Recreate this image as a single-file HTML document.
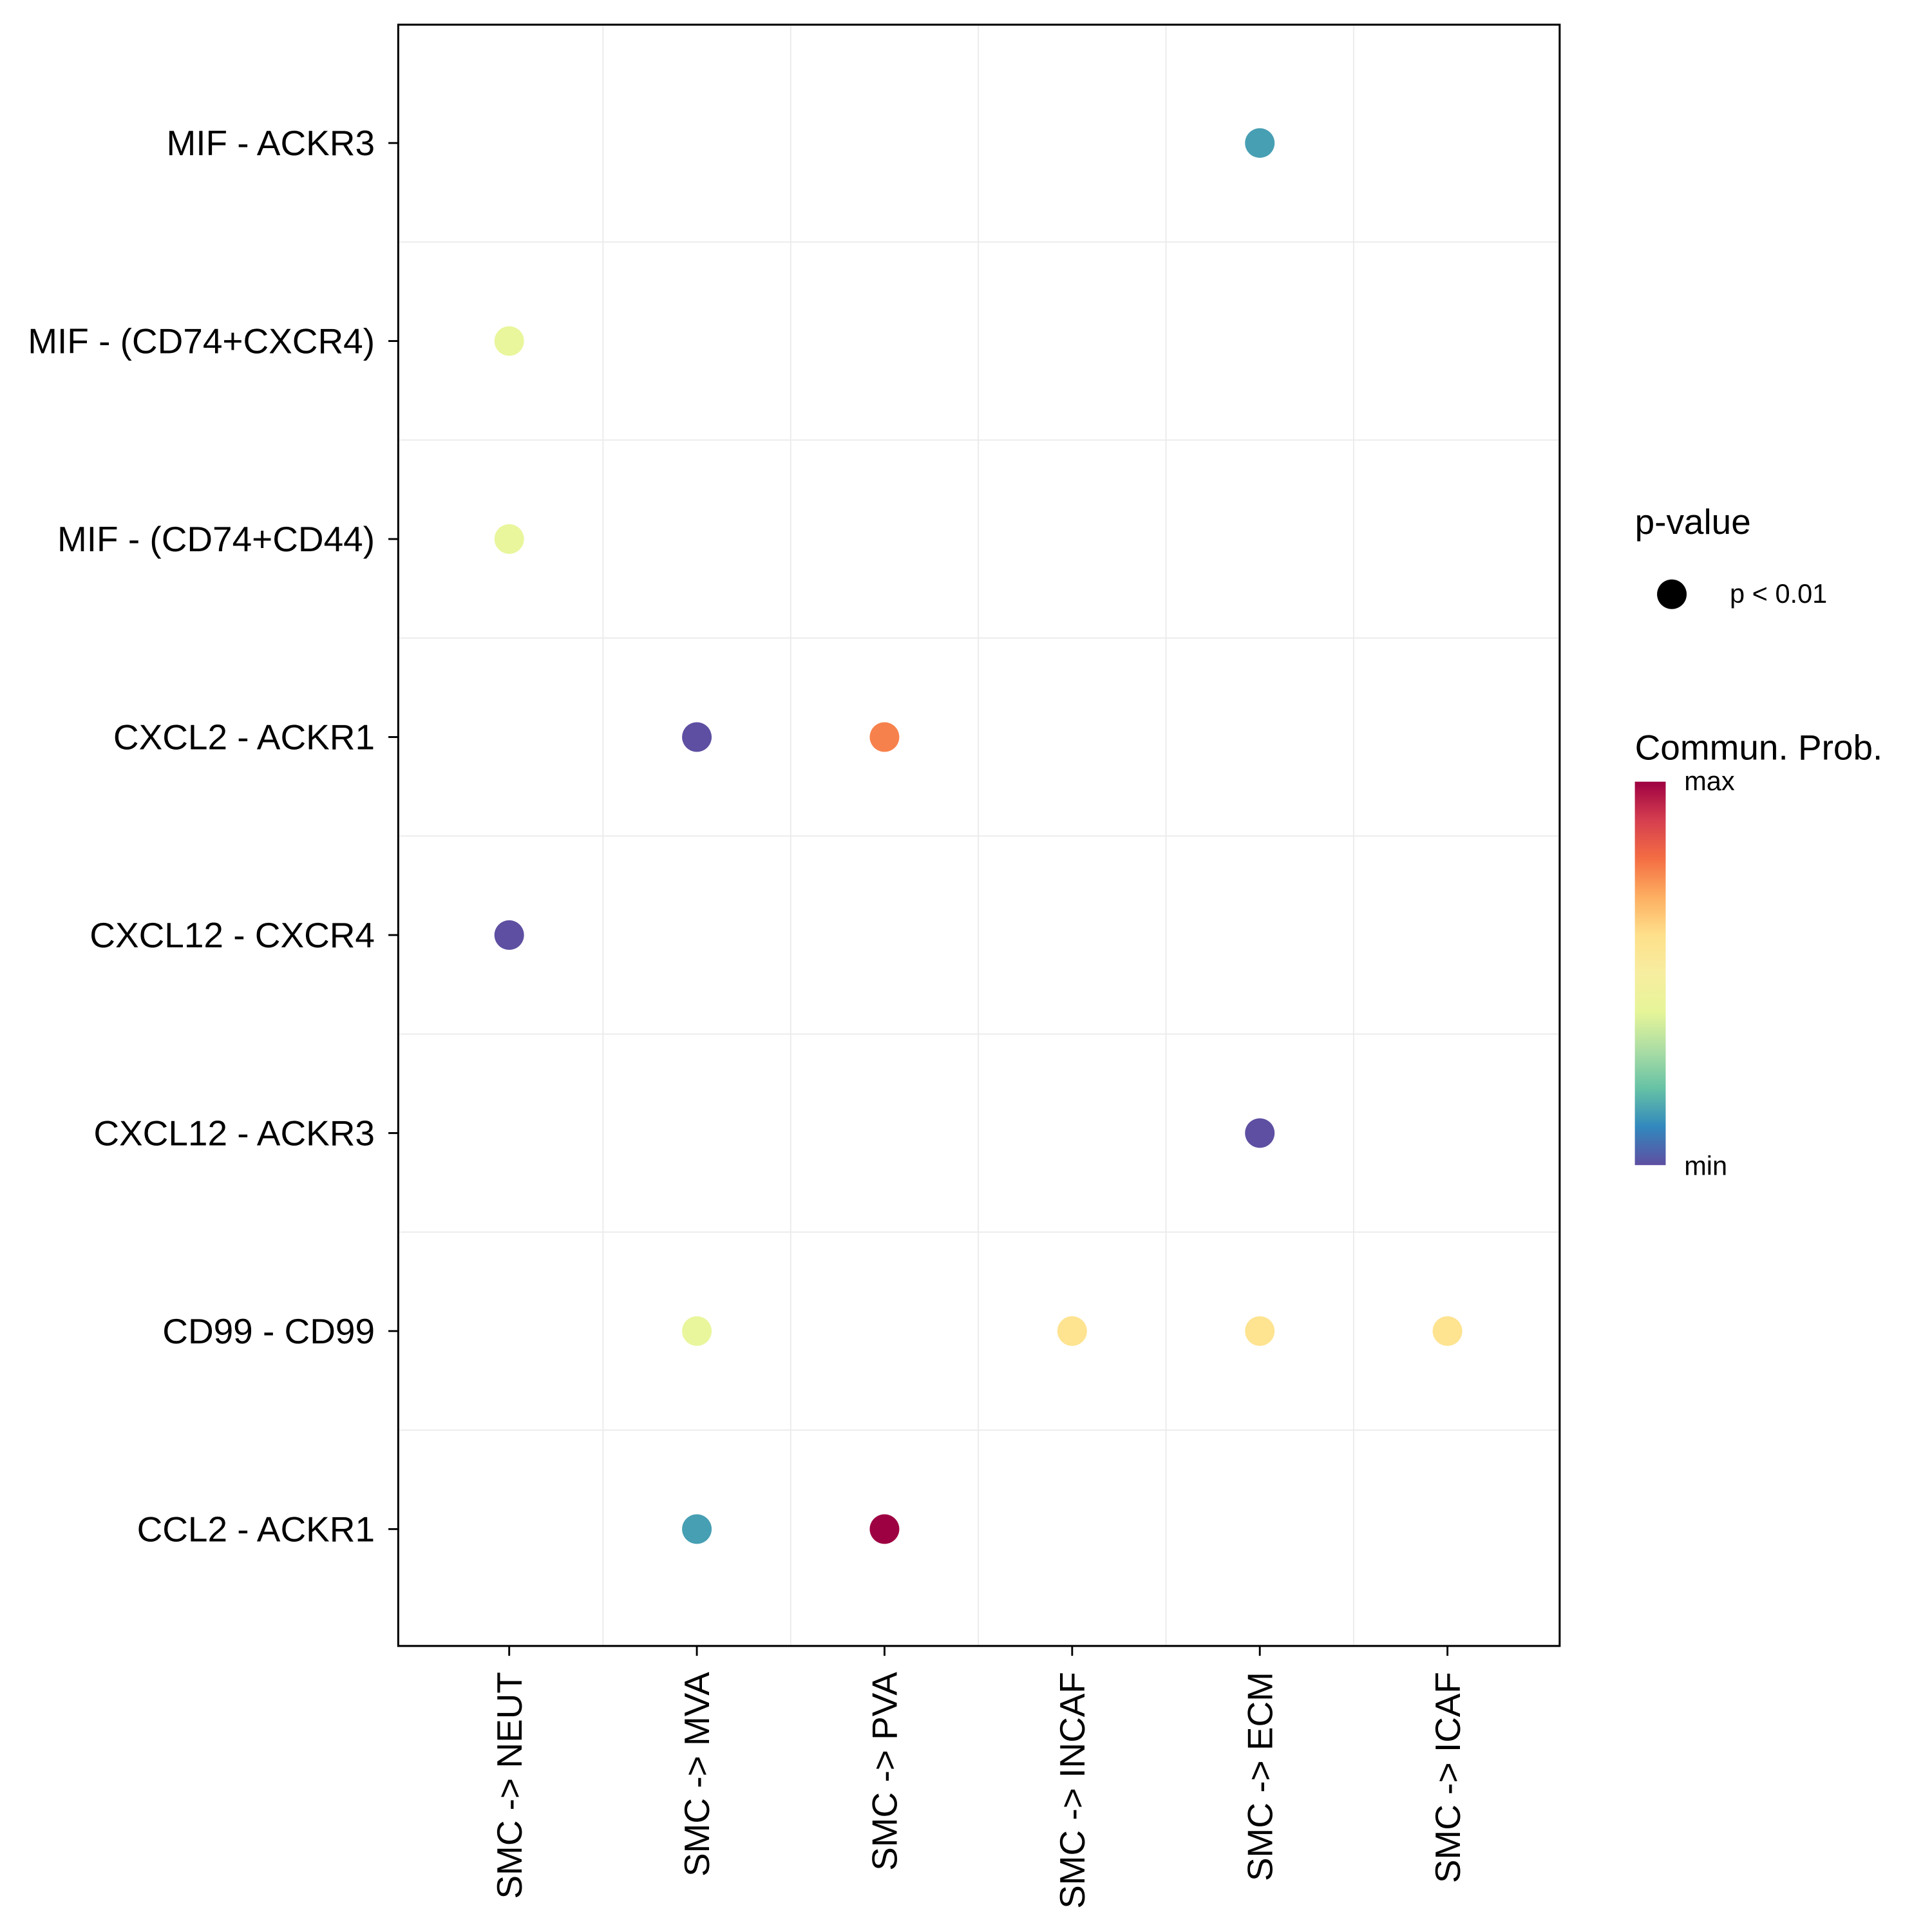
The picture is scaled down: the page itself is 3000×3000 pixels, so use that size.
<!DOCTYPE html>
<html><head><meta charset="utf-8"><style>html,body{margin:0;padding:0;background:#fff}svg{display:block}text{font-family:"Liberation Sans",sans-serif;fill:#000}</style></head>
<body>
<svg id="chart" width="3000" height="3000" viewBox="0 0 1567 1567" xmlns="http://www.w3.org/2000/svg">
<defs><linearGradient id="spec" x1="0" y1="1" x2="0" y2="0">
<stop offset="0" stop-color="#5e4fa2"/><stop offset="0.1" stop-color="#3288bd"/><stop offset="0.2" stop-color="#66c2a5"/><stop offset="0.3" stop-color="#abdda4"/><stop offset="0.4" stop-color="#e6f598"/><stop offset="0.5" stop-color="#f7eda0"/><stop offset="0.6" stop-color="#fee08b"/><stop offset="0.7" stop-color="#fdae61"/><stop offset="0.8" stop-color="#f46d43"/><stop offset="0.9" stop-color="#d53e4f"/><stop offset="1" stop-color="#9e0142"/></linearGradient></defs>
<rect x="0" y="0" width="1567" height="1567" fill="#fff"/>
<g id="grid"></g>
<g id="dots"></g>
<rect x="323" y="20" width="942" height="1315" fill="none" stroke="#000" stroke-width="1.6"/>
<g id="axes"></g>
<text x="1326" y="433" font-size="28.7">p-value</text>
<circle cx="1356" cy="482" r="12" fill="#000"/>
<text x="1403" y="489" font-size="21.7">p &lt; 0.01</text>
<text x="1326" y="616" font-size="28.7">Commun. Prob.</text>
<rect x="1326" y="634" width="25" height="311" fill="url(#spec)"/>
<text x="1366" y="641" font-size="21.7">max</text>
<text x="1366" y="953" font-size="21.7">min</text>
</svg>
<script>
const categoriesX = ["SMC -> NEUT","SMC -> MVA","SMC -> PVA","SMC -> INCAF","SMC -> ECM","SMC -> ICAF"];
const categoriesY = ["MIF - ACKR3","MIF - (CD74+CXCR4)","MIF - (CD74+CD44)","CXCL2 - ACKR1","CXCL12 - CXCR4","CXCL12 - ACKR3","CD99 - CD99","CCL2 - ACKR1"];
const pointX = ["SMC -> ECM","SMC -> NEUT","SMC -> NEUT","SMC -> MVA","SMC -> PVA","SMC -> NEUT","SMC -> ECM","SMC -> MVA","SMC -> INCAF","SMC -> ECM","SMC -> ICAF","SMC -> MVA","SMC -> PVA"];
const pointY = ["MIF - ACKR3","MIF - (CD74+CXCR4)","MIF - (CD74+CD44)","CXCL2 - ACKR1","CXCL2 - ACKR1","CXCL12 - CXCR4","CXCL12 - ACKR3","CD99 - CD99","CD99 - CD99","CD99 - CD99","CD99 - CD99","CCL2 - ACKR1","CCL2 - ACKR1"];
const probValues = [0.14,0.41,0.41,0.0,0.77,0.0,0.0,0.41,0.59,0.59,0.59,0.14,1.0];

const NS="http://www.w3.org/2000/svg";
const X0=323,X1=1265,Y0=20,Y1=1335;
function xPos(c){const i=categoriesX.indexOf(c);return 413+i*152.2;}
function yPos(c){const i=categoriesY.indexOf(c);return 116+i*160.6;}
const stops=["#5e4fa2","#3288bd","#66c2a5","#abdda4","#e6f598","#ffffbf","#fee08b","#fdae61","#f46d43","#d53e4f","#9e0142"];
function hex(h){return [1,3,5].map(i=>parseInt(h.substr(i,2),16));}
function colorScale(v){const t=Math.max(0,Math.min(1,v))*10;const i=Math.min(9,Math.floor(t));const f=t-i;const a=hex(stops[i]),b=hex(stops[i+1]);return "rgb("+a.map((x,k)=>Math.round(x+(b[k]-x)*f)).join(",")+")";}
function mk(tag,attrs,parent){const e=document.createElementNS(NS,tag);for(const k in attrs)e.setAttribute(k,attrs[k]);parent.appendChild(e);return e;}
const grid=document.getElementById('grid'),dots=document.getElementById('dots'),axes=document.getElementById('axes');
for(let i=1;i<categoriesX.length;i++){const x=(xPos(categoriesX[i-1])+xPos(categoriesX[i]))/2;
 const l=mk('line',{x1:x,x2:x,y1:Y0,y2:Y1,stroke:'#ebebeb','stroke-width':1},grid);
 
 }
for(let i=1;i<categoriesY.length;i++){const y=(yPos(categoriesY[i-1])+yPos(categoriesY[i]))/2;
 const l=mk('line',{x1:X0,x2:X1,y1:y,y2:y,stroke:'#ebebeb','stroke-width':1},grid);
 
 }
categoriesX.forEach(c=>{const x=xPos(c);
 const t=mk('line',{x1:x,x2:x,y1:Y1,y2:Y1+8,stroke:'#000','stroke-width':1.5},axes);
 
 
 const tx=mk('text',{x:0,y:0,'font-size':28.7,'text-anchor':'end',transform:'translate('+(x+10)+','+(Y1+21)+') rotate(-90)'},axes);
 tx.textContent=c;
 
 });
categoriesY.forEach(c=>{const y=yPos(c);
 const t=mk('line',{x1:X0-8,x2:X0,y1:y,y2:y,stroke:'#000','stroke-width':1.5},axes);
 
 
 const tx=mk('text',{x:X0-19,y:y+10,'font-size':28.7,'text-anchor':'end'},axes);
 tx.textContent=c;
 
 });
probValues.forEach((v,i)=>{
 const d=mk('circle',{cx:xPos(pointX[i]),cy:yPos(pointY[i]),r:12,fill:colorScale(v)},dots);
 
 });
</script>
</body></html>
